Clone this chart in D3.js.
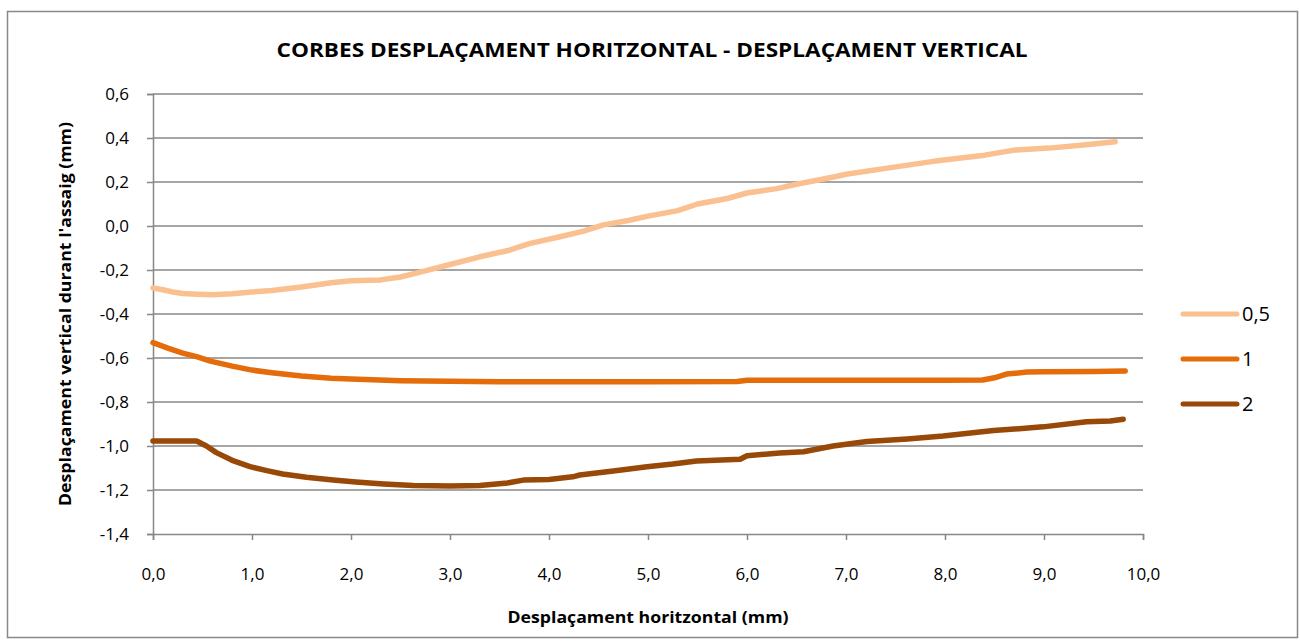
<!DOCTYPE html>
<html>
<head>
<meta charset="utf-8">
<script src="https://cdn.jsdelivr.net/npm/d3@7/dist/d3.min.js"></script>
<style>
  html, body { margin: 0; padding: 0; background: #fff; }
  svg { display: block; }
  text { font-family: "Open Sans", Lato, sans-serif; fill: #000; }
</style>
</head>
<body>
<svg id="chart" width="1300" height="641"></svg>
<script>
// Horizontal displacement (mm) / vertical displacement (mm) per test series
const seriesNames = ["0,5", "1", "2"];
const seriesColors = ["#FAC090", "#E46C0A", "#984807"];

const x05 = [0, 0.1, 0.2, 0.3, 0.45, 0.6, 0.8, 1.0, 1.2, 1.5, 1.8, 2.0, 2.3, 2.5, 2.7, 3.0, 3.3, 3.6, 3.8, 4.1, 4.35, 4.55, 4.8, 5.0, 5.3, 5.5, 5.8, 6.0, 6.3, 6.5, 6.9, 7.0, 7.4, 7.9, 8.4, 8.7, 9.05, 9.4, 9.72];
const y05 = [-0.282, -0.29, -0.30, -0.307, -0.31, -0.312, -0.308, -0.30, -0.293, -0.277, -0.258, -0.249, -0.245, -0.232, -0.21, -0.175, -0.14, -0.11, -0.08, -0.05, -0.023, 0.005, 0.025, 0.045, 0.07, 0.1, 0.125, 0.15, 0.17, 0.19, 0.225, 0.235, 0.262, 0.295, 0.322, 0.345, 0.354, 0.368, 0.383];

const x1 = [0, 0.15, 0.3, 0.44, 0.58, 0.8, 1.0, 1.2, 1.5, 1.8, 2.0, 2.5, 3.0, 3.5, 4.0, 5.0, 5.9, 6.0, 6.5, 7.0, 8.0, 8.38, 8.5, 8.62, 8.83, 9.0, 9.5, 9.82];
const y1 = [-0.53, -0.555, -0.578, -0.594, -0.614, -0.637, -0.655, -0.667, -0.682, -0.692, -0.696, -0.703, -0.706, -0.708, -0.708, -0.708, -0.707, -0.701, -0.701, -0.701, -0.701, -0.70, -0.69, -0.673, -0.664, -0.662, -0.661, -0.659];

const x2 = [0, 0.2, 0.44, 0.54, 0.64, 0.8, 0.98, 1.15, 1.31, 1.55, 1.82, 2.05, 2.33, 2.63, 3.0, 3.3, 3.58, 3.74, 4.0, 4.24, 4.31, 4.65, 4.99, 5.25, 5.49, 5.93, 6.0, 6.33, 6.57, 6.87, 7.21, 7.62, 7.98, 8.49, 8.99, 9.43, 9.67, 9.80];
const y2 = [-0.977, -0.977, -0.977, -1.0, -1.03, -1.065, -1.094, -1.112, -1.127, -1.142, -1.155, -1.164, -1.173, -1.18, -1.182, -1.18, -1.168, -1.155, -1.152, -1.14, -1.132, -1.114, -1.094, -1.082, -1.068, -1.06, -1.044, -1.032, -1.026, -1.0, -0.98, -0.968, -0.955, -0.93, -0.913, -0.89, -0.886, -0.878];

const xTicks = [0, 1, 2, 3, 4, 5, 6, 7, 8, 9, 10];
const yTicks = [0.6, 0.4, 0.2, 0.0, -0.2, -0.4, -0.6, -0.8, -1.0, -1.2, -1.4];

const titleText = "CORBES DESPLAÇAMENT HORITZONTAL - DESPLAÇAMENT VERTICAL";
const xLabel = "Desplaçament horitzontal (mm)";
const yLabel = "Desplaçament vertical durant l'assaig (mm)";

const series = [
  { name: seriesNames[0], color: seriesColors[0], pts: x05.map((v, i) => [v, y05[i]]) },
  { name: seriesNames[1], color: seriesColors[1], pts: x1.map((v, i) => [v, y1[i]]) },
  { name: seriesNames[2], color: seriesColors[2], pts: x2.map((v, i) => [v, y2[i]]) }
];

const locale = d3.formatLocale({ decimal: ",", thousands: ".", grouping: [3], currency: ["", " €"], minus: "-" });
const fmt = locale.format(".1f");

const svg = d3.select("#chart");
const gridColor = "#878787";
const fontFam = '"Open Sans", Lato, sans-serif';

// chart frame
svg.append("rect")
  .attr("x", 7.5).attr("y", 11.5).attr("width", 1290).attr("height", 626)
  .attr("fill", "#fff").attr("stroke", "#888").attr("stroke-width", 1.5);

const plot = { left: 153, right: 1143, top: 94, bottom: 534 };
const x = d3.scaleLinear().domain([0, 10]).range([plot.left, plot.right]);
const y = d3.scaleLinear().domain([-1.4, 0.6]).range([plot.bottom, plot.top]);

// horizontal gridlines
svg.append("g").selectAll("line").data(yTicks.filter(d => d > -1.4)).join("line")
  .attr("x1", plot.left).attr("x2", plot.right)
  .attr("y1", d => y(d)).attr("y2", d => y(d))
  .attr("stroke", gridColor).attr("stroke-width", 1.5);

// y axis
const yAxis = svg.append("g").attr("transform", `translate(${plot.left},0)`)
  .call(d3.axisLeft(y).tickValues(yTicks).tickFormat(fmt).tickSize(6).tickPadding(18));
yAxis.select(".domain").attr("stroke", gridColor).attr("stroke-width", 1.5);
yAxis.selectAll(".tick line").attr("stroke", gridColor).attr("stroke-width", 1.5);
yAxis.selectAll(".tick text").style("font-size", "17px").style("font-family", fontFam).attr("fill", "#000");

// x axis
const xAxis = svg.append("g").attr("transform", `translate(0,${plot.bottom})`)
  .call(d3.axisBottom(x).tickValues(xTicks).tickFormat(fmt).tickSize(6).tickPadding(28));
xAxis.select(".domain").attr("stroke", gridColor).attr("stroke-width", 1.5);
xAxis.selectAll(".tick line").attr("stroke", gridColor).attr("stroke-width", 1.5);
xAxis.selectAll(".tick text").style("font-size", "17px").style("font-family", fontFam).attr("fill", "#000");

// series lines
const line = d3.line().x(d => x(d[0])).y(d => y(d[1]));
svg.append("g").selectAll("path").data(series).join("path")
  .attr("d", d => line(d.pts))
  .attr("fill", "none")
  .attr("stroke", d => d.color)
  .attr("stroke-width", 5.5)
  .attr("stroke-linejoin", "round")
  .attr("stroke-linecap", "round");

// title
svg.append("text")
  .attr("x", 652).attr("y", 57)
  .attr("text-anchor", "middle")
  .attr("textLength", 751).attr("lengthAdjust", "spacingAndGlyphs")
  .style("font-size", "19.5px").style("font-weight", "bold")
  .text(titleText);

// axis titles
svg.append("text")
  .attr("x", 648).attr("y", 623)
  .attr("text-anchor", "middle")
  .attr("textLength", 281).attr("lengthAdjust", "spacingAndGlyphs")
  .style("font-size", "16px").style("font-weight", "bold")
  .text(xLabel);

svg.append("text")
  .attr("transform", `translate(71,314) rotate(-90)`)
  .attr("text-anchor", "middle")
  .attr("textLength", 384).attr("lengthAdjust", "spacingAndGlyphs")
  .style("font-size", "16px").style("font-weight", "bold")
  .text(yLabel);

// legend
const leg = svg.append("g").selectAll("g").data(series).join("g")
  .attr("transform", (d, i) => `translate(1183,${314 + i * 45})`);
leg.append("line")
  .attr("x1", 0).attr("x2", 54).attr("y1", 0).attr("y2", 0)
  .attr("stroke", d => d.color).attr("stroke-width", 5).attr("stroke-linecap", "round");
leg.append("text")
  .attr("x", 59).attr("y", 0).attr("dy", "0.35em")
  .style("font-size", "20px")
  .text(d => d.name);
</script>
</body>
</html>
